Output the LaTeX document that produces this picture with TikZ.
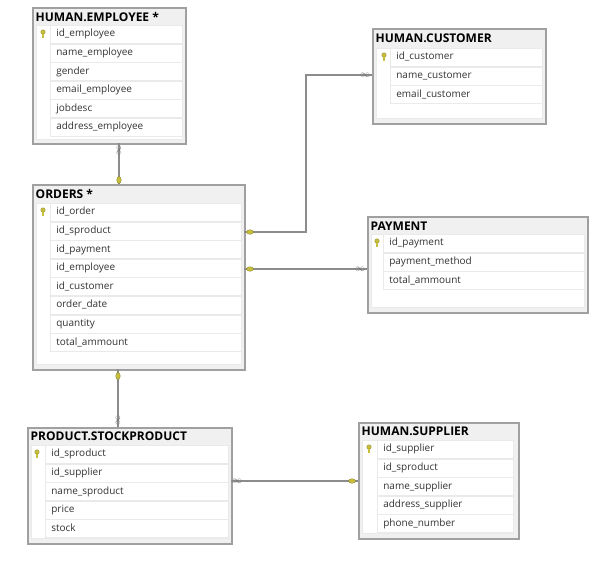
\documentclass[tikz,border=0pt]{standalone}
\usepackage{fontspec}
\setmainfont{Open Sans}
\usetikzlibrary{positioning,shapes.geometric}
\definecolor{framegray}{RGB}{160,160,160}
\definecolor{titlegray}{RGB}{240,240,240}
\definecolor{rowgray}{RGB}{234,234,234}
\definecolor{linkgray}{RGB}{140,140,140}
\definecolor{keyyellow}{RGB}{200,192,60}
\tikzset{
  tbl/.style={draw=framegray, line width=1.6pt, fill=titlegray, anchor=north west, inner sep=0pt},
  ttl/.style={anchor=north west, inner xsep=3.5pt, inner ysep=0pt, minimum height=19pt,
    font=\bfseries\fontsize{12}{14}\selectfont, text=black},
  body/.style={draw=rowgray, fill=white, line width=0.5pt},
  row/.style={draw=rowgray, line width=0.6pt, minimum height=18pt, inner xsep=6pt, inner ysep=0pt,
    text height=7.5pt, text depth=2.5pt, align=left, text width=#1,
    font=\fontsize{10}{12}\selectfont, text=black!80},
  keyicon/.style={circle, fill=keyyellow, draw=keyyellow!70!black, line width=0.3pt,
    minimum size=4.5pt, inner sep=0pt},
  rel/.style={draw=linkgray, line width=1.4pt},
  one/.style={ellipse, fill=keyyellow, draw=keyyellow!60!black, line width=0.3pt,
    minimum width=7pt, minimum height=4.5pt, inner sep=0pt},
  many/.style={text=black!55, inner sep=0pt, font=\normalsize}
}
\begin{document}
\begin{tikzpicture}[x=1pt,y=-1pt]
\fill[white] (0,0) rectangle (604,574);
\useasboundingbox (0,0) rectangle (604,574);

% HUMAN.EMPLOYEE
\node[tbl, minimum width=153pt, minimum height=136pt] (emp) at (32,7) {};
\node[ttl] (empT) at (32,7) {HUMAN.EMPLOYEE *};
\draw[body] (36,25) rectangle (182,139);
\node[row=120pt, anchor=north west] (e1) at (50,25) {id\_employee};
\node[row=120pt, below=0pt of e1] (e2) {name\_employee};
\node[row=120pt, below=0pt of e2] (e3) {gender};
\node[row=120pt, below=0pt of e3] (e4) {email\_employee};
\node[row=120pt, below=0pt of e4] (e5) {jobdesc};
\node[row=120pt, below=0pt of e5] (e6) {address\_employee};
\node[keyicon] (empK) at (43,32) {};
\fill[keyyellow] ([xshift=-0.6pt]empK.south) rectangle ++(1.2pt,-3.5pt);

% ORDERS
\node[tbl, minimum width=212pt, minimum height=185pt] (ord) at (32,184) {};
\node[ttl] (ordT) at (32,184) {ORDERS *};
\draw[body] (36,203) rectangle (241,364);
\node[row=179pt, anchor=north west] (o1) at (50,203) {id\_order};
\node[row=179pt, below=0pt of o1] (o2) {id\_sproduct};
\node[row=179pt, below=0pt of o2] (o3) {id\_payment};
\node[row=179pt, below=0pt of o3] (o4) {id\_employee};
\node[row=179pt, below=0pt of o4] (o5) {id\_customer};
\node[row=179pt, below=0pt of o5] (o6) {order\_date};
\node[row=179pt, below=0pt of o6] (o7) {quantity};
\node[row=179pt, below=0pt of o7] (o8) {total\_ammount};
\node[keyicon] (ordK) at (43,210) {};
\fill[keyyellow] ([xshift=-0.6pt]ordK.south) rectangle ++(1.2pt,-3.5pt);

% HUMAN.CUSTOMER
\node[tbl, minimum width=173pt, minimum height=95pt] (cus) at (372,28) {};
\node[ttl] (cusT) at (372,29) {HUMAN.CUSTOMER};
\draw[body] (376,48) rectangle (542,118);
\node[row=140pt, anchor=north west] (c1) at (390,48) {id\_customer};
\node[row=140pt, below=0pt of c1] (c2) {name\_customer};
\node[row=140pt, below=0pt of c2] (c3) {email\_customer};
\node[keyicon] (cusK) at (384,55) {};
\fill[keyyellow] ([xshift=-0.6pt]cusK.south) rectangle ++(1.2pt,-3.5pt);

% PAYMENT
\node[tbl, minimum width=220pt, minimum height=96pt] (pay) at (367,216) {};
\node[ttl] (payT) at (367,216) {PAYMENT};
\draw[body] (371,234) rectangle (584,307);
\node[row=189pt, anchor=north west] (p1) at (383,234) {id\_payment};
\node[row=189pt, below=0pt of p1] (p2) {payment\_method};
\node[row=189pt, below=0pt of p2] (p3) {total\_ammount};
\node[keyicon] (payK) at (377,241) {};
\fill[keyyellow] ([xshift=-0.6pt]payK.south) rectangle ++(1.2pt,-3.5pt);

% PRODUCT.STOCKPRODUCT
\node[tbl, minimum width=204pt, minimum height=116pt] (stk) at (27,427) {};
\node[ttl] (stkT) at (27,427) {PRODUCT.STOCKPRODUCT};
\draw[body] (31,445) rectangle (228,538);
\node[row=171pt, anchor=north west] (s1) at (45,445) {id\_sproduct};
\node[row=171pt, below=0pt of s1] (s2) {id\_supplier};
\node[row=171pt, below=0pt of s2] (s3) {name\_sproduct};
\node[row=171pt, below=0pt of s3] (s4) {price};
\node[row=171pt, below=0pt of s4] (s5) {stock};
\node[keyicon] (stkK) at (37,452) {};
\fill[keyyellow] ([xshift=-0.6pt]stkK.south) rectangle ++(1.2pt,-3.5pt);

% HUMAN.SUPPLIER
\node[tbl, minimum width=160pt, minimum height=116pt] (sup) at (358,422) {};
\node[ttl] (supT) at (358,422) {HUMAN.SUPPLIER};
\draw[body] (362,440) rectangle (513,533);
\node[row=124pt, anchor=north west] (u1) at (377,440) {id\_supplier};
\node[row=124pt, below=0pt of u1] (u2) {id\_sproduct};
\node[row=124pt, below=0pt of u2] (u3) {name\_supplier};
\node[row=124pt, below=0pt of u3] (u4) {address\_supplier};
\node[row=124pt, below=0pt of u4] (u5) {phone\_number};
\node[keyicon] (supK) at (369,447) {};
\fill[keyyellow] ([xshift=-0.6pt]supK.south) rectangle ++(1.2pt,-3.5pt);

% relations
\coordinate (empB) at (119,143);
\coordinate (ordTop) at (119,184);
\coordinate (ordC) at (244,232);
\coordinate (cusL) at (372,75);
\coordinate (ordP) at (244,269);
\coordinate (payL) at (367,269);
\coordinate (ordB) at (118,369);
\coordinate (stkTop) at (118,427);
\coordinate (stkR) at (231,481);
\coordinate (supL) at (358,481);

\draw[rel] (empB) -- (ordTop);
\draw[rel] (ordC) -- ++(62,0) |- (cusL);
\draw[rel] (ordP) -- (payL);
\draw[rel] (ordB) -- (stkTop);
\draw[rel] (stkR) -- (supL);

\node[many, rotate=90] (mEmp) at (119,150) {$\infty$};
\node[one, rotate=90] (oEmp) at (119,180) {};
\node[one] (oCus) at (250,232) {};
\node[many] (mCus) at (365,75) {$\infty$};
\node[one] (oPay) at (250,269) {};
\node[many] (mPay) at (360,269) {$\infty$};
\node[one, rotate=90] (oStk) at (118,376) {};
\node[many, rotate=90] (mStk) at (118,420) {$\infty$};
\node[many] (mSup) at (237,481) {$\infty$};
\node[one] (oSup) at (352,481) {};
\end{tikzpicture}
\end{document}
